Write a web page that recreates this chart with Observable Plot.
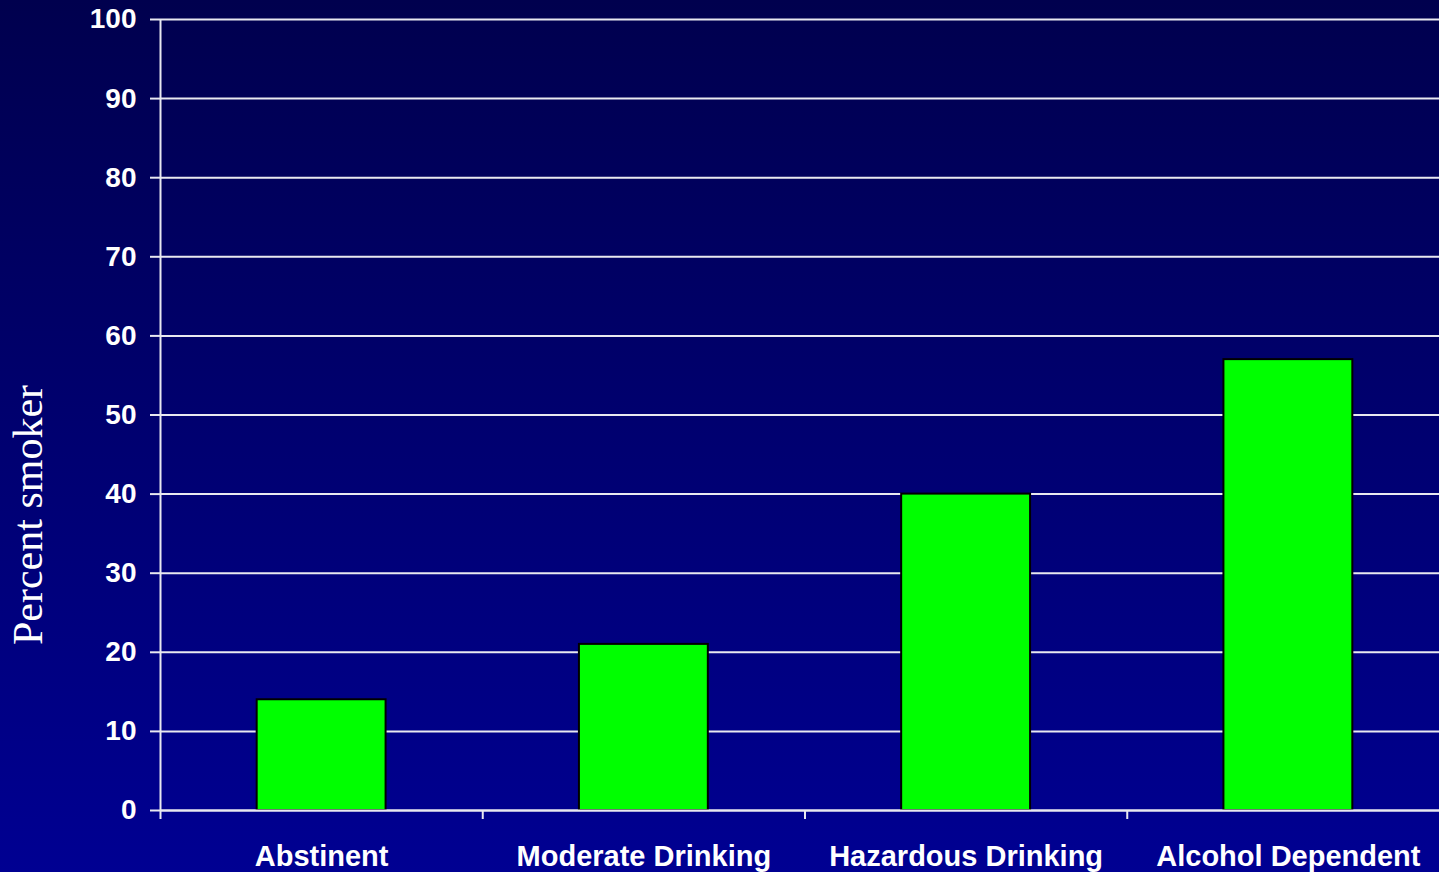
<!DOCTYPE html>
<html>
<head>
<meta charset="utf-8">
<script src="https://cdn.jsdelivr.net/npm/d3@7"></script>
<script src="https://cdn.jsdelivr.net/npm/@observablehq/plot@0.6"></script>
<style>
  html, body { margin: 0; padding: 0; overflow: hidden; }
  body { width: 1439px; height: 872px; background: linear-gradient(to bottom, #00004e 0%, #000092 100%); }
  #chart svg { display: block; overflow: visible; }
</style>
</head>
<body>
<div id="chart"></div>
<script>
// Smoking prevalence by drinking status
const categories = ["Abstinent", "Moderate Drinking", "Hazardous Drinking", "Alcohol Dependent"];
const percentSmoker = [14, 21, 40, 57];
const yTicks = [0, 10, 20, 30, 40, 50, 60, 70, 80, 90, 100];

const data = categories.map((name, i) => ({i, name, value: percentSmoker[i]}));

const bold = "Liberation Sans, Arial, sans-serif";

const chart = Plot.plot({
  width: 1439,
  height: 872,
  marginLeft: 160,
  marginRight: 0,
  marginTop: 19,
  marginBottom: 62,
  style: {background: "transparent", color: "white", overflow: "visible"},
  x: {type: "linear", domain: [0, categories.length], range: [160, 1449]},
  y: {domain: [0, 100]},
  marks: [
    // horizontal gridlines
    Plot.ruleY(yTicks, {x1: 0, x2: categories.length, stroke: "#e8e8f0", strokeWidth: 2}),
    // y axis with outward ticks
    Plot.axisY({ticks: yTicks, tickSize: 10, tickPadding: 14, stroke: "#e8e8f0", strokeWidth: 2,
      fontSize: 28, fontWeight: "bold", fontFamily: bold, fill: "white", label: null}),
    Plot.ruleX([0], {y1: 0, y2: 100, stroke: "#e8e8f0", strokeWidth: 2}),
    // category separator ticks below the baseline
    Plot.axisX({ticks: d3.range(categories.length), tickSize: 9, tickFormat: () => "", stroke: "#e8e8f0", strokeWidth: 2, label: null}),
    // category labels at band centres
    Plot.axisX({ticks: categories.map((c, i) => i + 0.5), tickSize: 0, tickPadding: 35,
      tickFormat: v => categories[Math.floor(v)], fontSize: 29, fontWeight: "bold", fontFamily: bold, fill: "white", label: null}),
    // bars
    Plot.rectY(data, {x1: d => d.i + 0.3, x2: d => d.i + 0.7, y: "value", fill: "#00ff00", stroke: "black", strokeWidth: 2}),
    // baseline
    Plot.ruleY([0], {x1: 0, x2: categories.length, stroke: "#e8e8f0", strokeWidth: 2}),
    // y axis title
    Plot.text(["Percent smoker"], {frameAnchor: "left", textAnchor: "middle", rotate: -90, dx: -132, dy: 100,
      fontSize: 42, fontFamily: "Liberation Serif, Times New Roman, serif", fill: "white"})
  ]
});

document.getElementById("chart").append(chart);
</script>
</body>
</html>
